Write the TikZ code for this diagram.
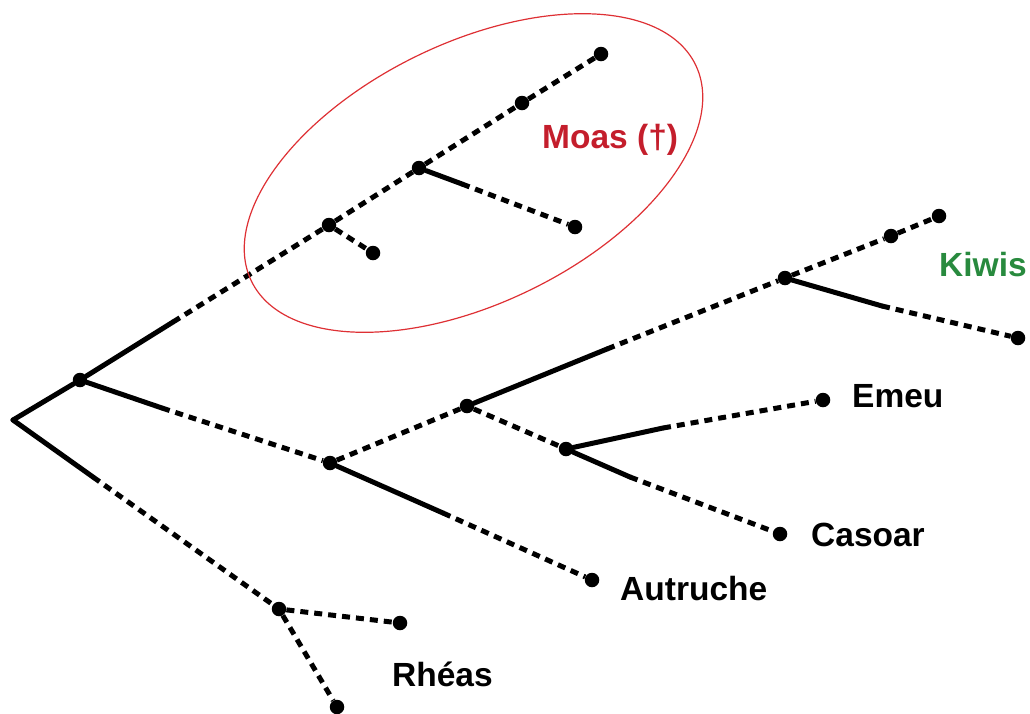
\documentclass[tikz,border=0pt]{standalone}
\usepackage{fontspec}
\setmainfont{Liberation Sans}
\definecolor{moasred}{RGB}{196,30,44}
\definecolor{ringred}{RGB}{222,48,52}
\definecolor{kiwigreen}{RGB}{40,138,62}
\begin{document}
\begin{tikzpicture}[x=1pt,y=1pt,
  dot/.style={circle,fill=black,inner sep=0pt,minimum size=14.5pt},
  solidbranch/.style={line width=5pt,line cap=round},
  dotbranch/.style={line width=5pt,dash pattern=on 8pt off 6pt},
  taxon/.style={anchor=base west,inner sep=0pt,font=\fontsize{33.5}{40}\selectfont\bfseries}]
\useasboundingbox (0,0) rectangle (1030,-713);

% branching points and tips
\coordinate (root) at (13,-420);
\node[dot] (A)  at (80,-380) {};
\node[dot] (B)  at (330,-463) {};
\node[dot] (C)  at (467,-406) {};
\node[dot] (D)  at (566,-449) {};
\node[dot] (K)  at (785,-278) {};
\node[dot] (K1) at (891,-236) {};
\node[dot] (K2) at (939,-216) {};
\node[dot] (K3) at (1018,-338) {};
\node[dot] (E)  at (823,-400) {};
\node[dot] (Ca) at (780,-534) {};
\node[dot] (Au) at (592,-580) {};
\node[dot] (M1) at (329,-225) {};
\node[dot] (M1a) at (373,-253) {};
\node[dot] (M2) at (419,-168) {};
\node[dot] (M2a) at (575,-227) {};
\node[dot] (M3) at (522,-103) {};
\node[dot] (M4) at (601,-54) {};
\node[dot] (R)  at (279,-609) {};
\node[dot] (R1) at (400,-623) {};
\node[dot] (R2) at (337,-707) {};

% points where a solid stem turns into a dotted one
\coordinate (sA)  at (173,-322);
\coordinate (sB)  at (162,-408);
\coordinate (sR)  at (93,-477);
\coordinate (sAu) at (443,-513);
\coordinate (sC)  at (607,-349);
\coordinate (sK)  at (882,-306);
\coordinate (sE)  at (663,-428);
\coordinate (sCa) at (630,-477);
\coordinate (sM2) at (462,-184);

% solid stems
\draw[solidbranch] (root) -- (A);
\draw[solidbranch] (A) -- (sA);
\draw[solidbranch] (A) -- (sB);
\draw[solidbranch] (root) -- (sR);
\draw[solidbranch] (B) -- (sAu);
\draw[solidbranch] (C) -- (sC);
\draw[solidbranch] (K) -- (sK);
\draw[solidbranch] (D) -- (sE);
\draw[solidbranch] (D) -- (sCa);
\draw[solidbranch] (M2) -- (sM2);

% dotted branches
\draw[dotbranch] (sA) -- (M1);
\draw[dotbranch] (M1) -- (M1a);
\draw[dotbranch] (M1) -- (M2);
\draw[dotbranch] (sM2) -- (M2a);
\draw[dotbranch] (M2) -- (M3);
\draw[dotbranch] (M3) -- (M4);
\draw[dotbranch] (sB) -- (B);
\draw[dotbranch] (sAu) -- (Au);
\draw[dotbranch] (B) -- (C);
\draw[dotbranch] (sC) -- (K);
\draw[dotbranch] (K) -- (K1);
\draw[dotbranch] (K1) -- (K2);
\draw[dotbranch] (sK) -- (K3);
\draw[dotbranch] (C) -- (D);
\draw[dotbranch] (sE) -- (E);
\draw[dotbranch] (sCa) -- (Ca);
\draw[dotbranch] (sR) -- (R);
\draw[dotbranch] (R) -- (R1);
\draw[dotbranch] (R) -- (R2);

% extinct clade
\draw[ringred,line width=1.2pt,rotate around={26:(473.5,-173)}] (473.5,-173) ellipse (247 and 130);

% labels
\node[taxon,text=moasred] (lMoas) at (542,-148) {Moas (†)};
\node[taxon,text=kiwigreen] (lKiwis) at (939,-276) {Kiwis};
\node[taxon] (lEmeu) at (852,-407) {Emeu};
\node[taxon] (lCasoar) at (811,-546) {Casoar};
\node[taxon] (lAutruche) at (620,-600) {Autruche};
\node[taxon] (lRheas) at (392,-686) {Rhéas};
\end{tikzpicture}
\end{document}
